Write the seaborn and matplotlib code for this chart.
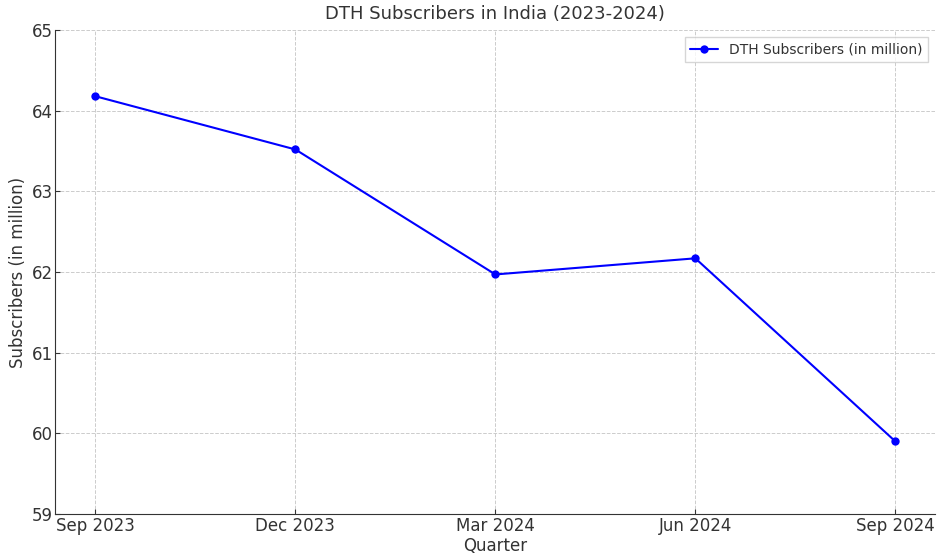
import matplotlib
matplotlib.use("Agg")
import matplotlib.pyplot as plt
import seaborn as sns
import pandas as pd

quarters = ["Sep 2023", "Dec 2023", "Mar 2024", "Jun 2024", "Sep 2024"]
subscribers = [64.18, 63.52, 61.97, 62.17, 59.90]
series_label = "DTH Subscribers (in million)"

sns.set_style("ticks")
plt.rcParams['font.family'] = ['DejaVu Sans']

df = pd.DataFrame({"Quarter": quarters, "Subscribers": subscribers})

fig, ax = plt.subplots(figsize=(9.4, 5.58), dpi=100)
fig.subplots_adjust(left=0.059, right=0.995, top=0.946, bottom=0.079)

sns.lineplot(data=df, x="Quarter", y="Subscribers", ax=ax, color="blue",
             marker="o", markersize=6, markeredgewidth=0, linewidth=1.5,
             label=series_label, sort=False)

ax.set_ylim(59, 65)
ax.set_xlim(-0.2, 4.2)
ax.set_yticks([59, 60, 61, 62, 63, 64, 65])
ax.grid(True, linestyle="--", color="#cccccc", linewidth=0.7)
ax.tick_params(direction="in", labelsize=12, colors="#333333", labelcolor="#333333", pad=2)
for s in ["top", "right"]:
    ax.spines[s].set_visible(False)
for s in ["left", "bottom"]:
    ax.spines[s].set_color("#333333")
ax.set_title("DTH Subscribers in India (2023-2024)", fontsize=13, color="#333333", pad=8)
ax.set_xlabel("Quarter", fontsize=12, color="#333333", labelpad=2)
ax.set_ylabel("Subscribers (in million)", fontsize=12, color="#333333", labelpad=3)
leg = ax.legend(loc="upper right", fontsize=10, frameon=True, fancybox=False)
leg.get_frame().set_edgecolor("#cccccc")
for t in leg.get_texts():
    t.set_color("#333333")

fig.savefig("out.png", dpi=100)
